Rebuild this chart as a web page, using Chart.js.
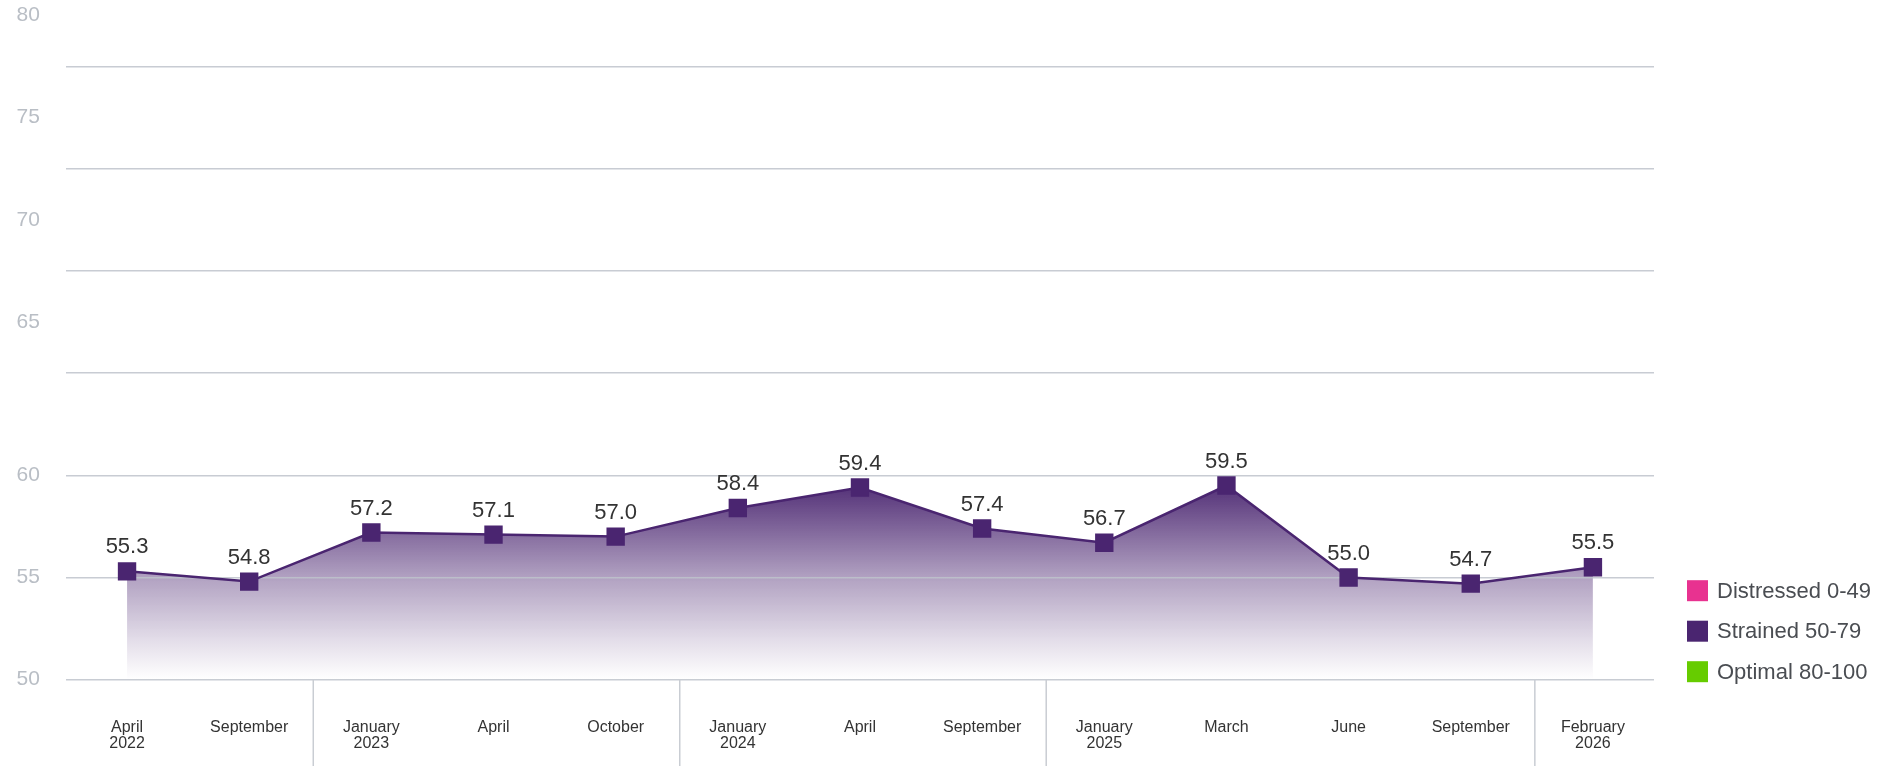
<!DOCTYPE html>
<html>
<head>
<meta charset="utf-8">
<script src="https://cdn.jsdelivr.net/npm/chart.js@4.4.1/dist/chart.umd.min.js"></script>
<style>
  html, body { margin: 0; padding: 0; background: #fff; }
  #wrap { width: 1878px; height: 766px; }
</style>
</head>
<body>
<div id="wrap"><canvas id="indexChart"></canvas></div>
<script>
// Survey waves (a second line marks the first wave of a new year)
const waveLabels = [
  ['April', '2022'], 'September',
  ['January', '2023'], 'April', 'October',
  ['January', '2024'], 'April', 'September',
  ['January', '2025'], 'March', 'June', 'September',
  ['February', '2026']
];
const indexScores = [55.3, 54.8, 57.2, 57.1, 57.0, 58.4, 59.4, 57.4, 56.7, 59.5, 55.0, 54.7, 55.5];

// y axis: gridlines every 5; labels above 60 sit half a step higher, like the original
const yGridValues = [50, 55, 60, 65, 70, 75, 80];
const yLabelValues = [50, 55, 60, 67.5, 72.5, 77.5, 82.5];
const yLabelTexts = ['50', '55', '60', '65', '70', '75', '80'];

const legendLabels = ['Distressed 0-49', 'Strained 50-79', 'Optimal 80-100'];
const legendColors = ['#e83290', '#4a2570', '#66cc00'];

const PURPLE = '#4a2570';
const FONT = "'Liberation Sans', Arial, Helvetica, sans-serif";

// score above each point
const valueLabels = {
  id: 'valueLabels',
  afterDatasetsDraw(chart) {
    const ctx = chart.ctx;
    const meta = chart.getDatasetMeta(0);
    ctx.save();
    ctx.font = `22px ${FONT}`;
    ctx.fillStyle = '#333333';
    ctx.textAlign = 'center';
    ctx.textBaseline = 'middle';
    meta.data.forEach((pt, i) => {
      ctx.fillText(indexScores[i].toFixed(1), pt.x, pt.y - 24);
    });
    ctx.restore();
  }
};

// thin vertical rules under the axis where a new year starts
const yearSeparators = {
  id: 'yearSeparators',
  afterDraw(chart) {
    const ctx = chart.ctx;
    const x = chart.scales.x;
    const top = chart.chartArea.bottom;
    ctx.save();
    ctx.strokeStyle = '#c9cdd3';
    ctx.lineWidth = 1.5;
    waveLabels.forEach((lbl, i) => {
      if (i === 0 || !Array.isArray(lbl)) return;
      const px = (x.getPixelForValue(i - 1) + x.getPixelForValue(i)) / 2 + 3;
      ctx.beginPath();
      ctx.moveTo(px, top);
      ctx.lineTo(px, chart.height);
      ctx.stroke();
    });
    ctx.restore();
  }
};

// range legend to the right of the plot, sitting on the bottom gridline
const sideLegend = {
  id: 'sideLegend',
  afterDraw(chart) {
    const ctx = chart.ctx;
    const area = chart.chartArea;
    const boxX = area.right + 33;
    const box = 21;
    ctx.save();
    ctx.font = `22px ${FONT}`;
    ctx.textBaseline = 'middle';
    ctx.textAlign = 'left';
    legendLabels.forEach((text, i) => {
      const cy = area.bottom - 89 + i * 40.5;
      ctx.fillStyle = legendColors[i];
      ctx.fillRect(boxX, cy - box / 2, box, box);
      ctx.fillStyle = '#4a4d52';
      ctx.fillText(text, boxX + 30, cy + 1);
    });
    ctx.restore();
  }
};

function areaGradient(context) {
  const chart = context.chart;
  if (!chart.chartArea) return 'rgba(74,37,112,0.3)';
  const y = chart.scales.y;
  const top = y.getPixelForValue(60);
  const bottom = y.getPixelForValue(50);
  const g = chart.ctx.createLinearGradient(0, top, 0, bottom);
  g.addColorStop(0, 'rgba(74,37,112,1)');
  g.addColorStop(0.5, 'rgba(74,37,112,0.43)');
  g.addColorStop(0.8, 'rgba(74,37,112,0.16)');
  g.addColorStop(1, 'rgba(74,37,112,0)');
  return g;
}

new Chart(document.getElementById('indexChart'), {
  type: 'line',
  data: {
    labels: waveLabels,
    datasets: [{
      label: 'Strained 50-79',
      data: indexScores,
      borderColor: PURPLE,
      borderWidth: 2.5,
      backgroundColor: areaGradient,
      fill: 'start',
      tension: 0,
      pointStyle: 'rect',
      pointRadius: 13,
      pointBorderWidth: 0,
      pointBackgroundColor: PURPLE,
      pointBorderColor: PURPLE
    }]
  },
  options: {
    responsive: true,
    maintainAspectRatio: false,
    animation: false,
    layout: { padding: { left: 16.6, right: 224, top: 15.4, bottom: 14.3 } },
    plugins: {
      legend: { display: false },
      tooltip: { enabled: false },
      // fill first, so the gridlines show through it
      filler: { drawTime: 'beforeDraw' }
    },
    scales: {
      x: {
        offset: true,
        grid: { display: true, drawOnChartArea: false, tickLength: 40, tickColor: 'transparent' },
        border: { display: false },
        ticks: {
          padding: 0,
          autoSkip: false,
          maxRotation: 0,
          color: '#333333',
          font: { family: FONT, size: 16, lineHeight: '16px' }
        }
      },
      y: {
        min: 50,
        max: 82.5,
        afterBuildTicks: (axis) => {
          const vals = [...new Set([...yGridValues, ...yLabelValues])].sort((a, b) => a - b);
          axis.ticks = vals.map(v => ({ value: v }));
        },
        grid: {
          color: (c) => (c.tick && yGridValues.includes(c.tick.value)) ? 'rgba(190,195,203,0.85)' : 'transparent',
          lineWidth: 1.5,
          tickLength: 26,
          tickColor: 'transparent'
        },
        border: { display: false },
        ticks: {
          padding: 0,
          autoSkip: false,
          color: '#b9bec5',
          font: { family: FONT, size: 21 },
          callback: (v) => {
            const i = yLabelValues.indexOf(v);
            return i >= 0 ? yLabelTexts[i] : '';
          }
        }
      }
    }
  },
  plugins: [valueLabels, yearSeparators, sideLegend]
});
</script>
</body>
</html>
